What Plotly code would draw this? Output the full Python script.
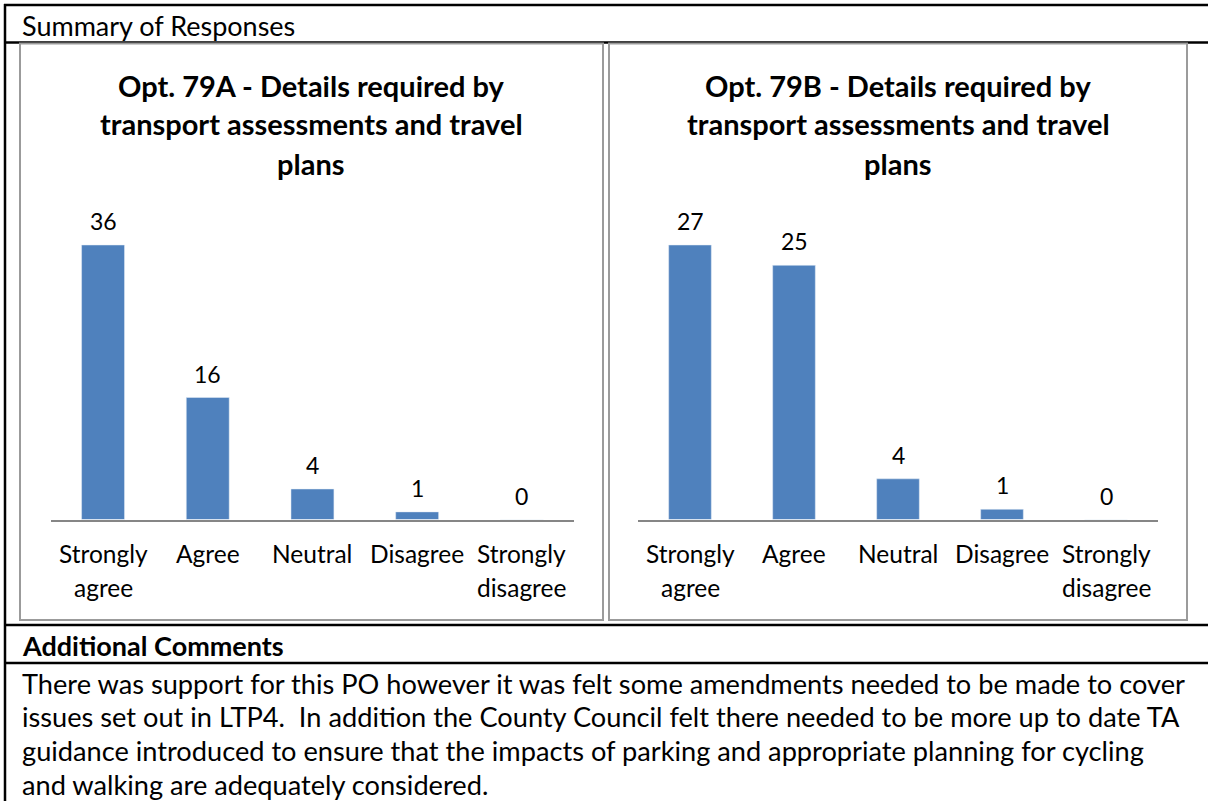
import plotly.graph_objects as go

# ---- data ----
categories = ["Strongly agree", "Agree", "Neutral", "Disagree", "Strongly disagree"]
tick_labels = ["Strongly<br>agree", "Agree", "Neutral", "Disagree", "Strongly<br>disagree"]
values_79a = [36, 16, 4, 1, 0]
values_79b = [27, 25, 4, 1, 0]
title_79a = ["Opt. 79A - Details required by", "transport assessments and travel", "plans"]
title_79b = ["Opt. 79B - Details required by", "transport assessments and travel", "plans"]
header_text = "Summary of Responses"
comments_header = "Additional Comments"
comments_lines = [
    "There was support for this PO however it was felt some amendments needed to be made to cover",
    "issues set out in LTP4.&nbsp; In addition the County Council felt there needed to be more up to date TA",
    "guidance introduced to ensure that the impacts of parking and appropriate planning for cycling",
    "and walking are adequately considered.",
]

W, H = 1208, 801
FONT = "Lato"
BAR_COLOR = "#4F81BD"


def px(x):
    return x / W


def py(y):
    return 1 - y / H


fig = go.Figure()

fig.add_trace(go.Bar(x=categories, y=values_79a, marker_color=BAR_COLOR, width=0.41,
                     xaxis="x", yaxis="y", hoverinfo="skip"))
fig.add_trace(go.Bar(x=categories, y=values_79b, marker_color=BAR_COLOR, width=0.41,
                     xaxis="x2", yaxis="y2", hoverinfo="skip"))

annotations = []
shapes = []

# data labels and category labels
for xref, yref, vals in (("x", "y", values_79a), ("x2", "y2", values_79b)):
    for cat, v, lab in zip(categories, vals, tick_labels):
        annotations.append(dict(x=cat, y=v, xref=xref, yref=yref, text=str(v), showarrow=False,
                                yanchor="middle", yshift=24, font=dict(family=FONT, size=23, color="black")))
        for i, line in enumerate(lab.split("<br>")):
            annotations.append(dict(x=cat, y=0, xref=xref, yref=yref, text=line, showarrow=False,
                                    yanchor="middle", yshift=-34 - 34 * i,
                                    font=dict(family=FONT, size=24.5, color="black")))

# chart titles
for cx, lines in ((311, title_79a), (898, title_79b)):
    for i, line in enumerate(lines):
        annotations.append(dict(x=px(cx), y=py(85 + 39 * i), xref="paper", yref="paper", text="<b>" + line + "</b>",
                                showarrow=False, xanchor="center", yanchor="middle",
                                font=dict(family=FONT, size=29, color="black")))

# table texts
annotations.append(dict(x=px(20), y=py(26), xref="paper", yref="paper", text=header_text, showarrow=False,
                        xanchor="left", yanchor="middle", font=dict(family=FONT, size=27, color="black")))
annotations.append(dict(x=px(20), y=py(645), xref="paper", yref="paper", text="<b>" + comments_header + "</b>",
                        showarrow=False, xanchor="left", yanchor="middle",
                        font=dict(family=FONT, size=27, color="black")))
for i, line in enumerate(comments_lines):
    annotations.append(dict(x=px(20), y=py(683 + 33.7 * i), xref="paper", yref="paper", text=line,
                            showarrow=False, xanchor="left", yanchor="middle",
                            font=dict(family=FONT, size=27.2, color="black")))

# table lines
for yy in (5, 42.5, 625, 663):
    shapes.append(dict(type="line", xref="paper", yref="paper", x0=px(4), x1=1, y0=py(yy), y1=py(yy),
                       line=dict(color="black", width=2.5)))
shapes.append(dict(type="line", xref="paper", yref="paper", x0=px(5), x1=px(5), y0=py(4), y1=0,
                   line=dict(color="black", width=2.5)))
# chart frames
for x0, x1 in ((20, 603), (609, 1187)):
    shapes.append(dict(type="rect", xref="paper", yref="paper", x0=px(x0), x1=px(x1), y0=py(43.5), y1=py(620),
                       line=dict(color="#9b9b9b", width=2), fillcolor="rgba(0,0,0,0)"))

axis_common = dict(type="category", range=[-0.5, 4.5], showline=True, linecolor="#868686", linewidth=2,
                   showticklabels=False, ticks="", showgrid=False, zeroline=False, fixedrange=True)
yaxis_common = dict(showline=False, showgrid=False, showticklabels=False, zeroline=False, ticks="",
                    fixedrange=True, domain=[py(519.5), py(214.5)])

fig.update_layout(
    width=W, height=H,
    margin=dict(l=0, r=0, t=0, b=0),
    paper_bgcolor="white", plot_bgcolor="white",
    showlegend=False,
    xaxis=dict(axis_common, domain=[px(50.7), px(574.2)], anchor="y"),
    yaxis=dict(yaxis_common, range=[0, 40], anchor="x"),
    xaxis2=dict(axis_common, domain=[px(638), px(1158)], anchor="y2"),
    yaxis2=dict(yaxis_common, range=[0, 30], anchor="x2"),
    annotations=annotations,
    shapes=shapes,
)

fig.write_html("out.html", config={"displayModeBar": False},
               post_script="document.body.style.margin='0';document.body.style.overflow='hidden';")
